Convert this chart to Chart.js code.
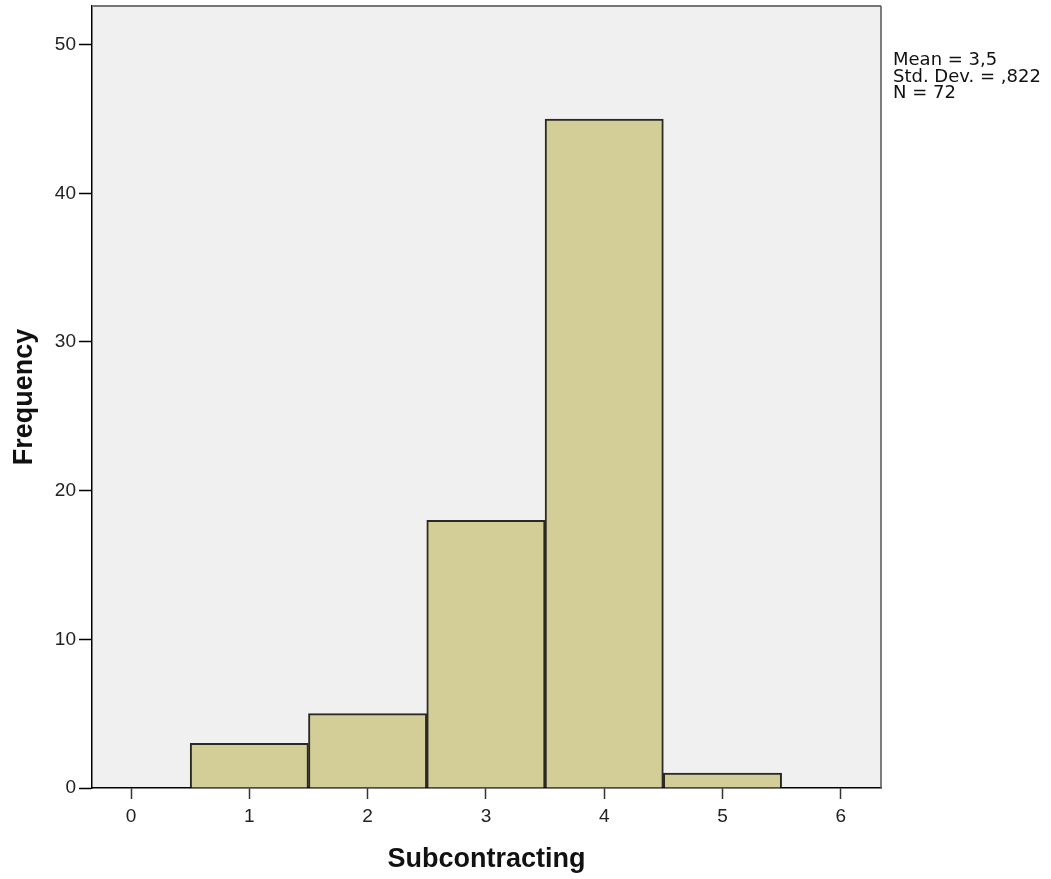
<!DOCTYPE html>
<html>
<head>
<meta charset="utf-8">
<script src="https://cdn.jsdelivr.net/npm/chart.js@4"></script>
<style>
  html, body { margin: 0; padding: 0; background: #fff; }
  #wrap { width: 1051px; height: 879px; }
</style>
</head>
<body>
<div id="wrap"><canvas id="myChart" width="1051" height="879"></canvas></div>
<script>
// histogram data
var binCenters = [1, 2, 3, 4, 5];
var frequencies = [3, 5, 18, 45, 1];
var xTitle = "Subcontracting";
var yTitle = "Frequency";
var statsLines = ["Mean = 3,5", "Std. Dev. = ,822", "N = 72"];

var points = binCenters.map(function (c, i) {
    return { x: c, y: frequencies[i] };
});

// plot background, top/right frame and stats box
var frame = {
    id: "frame",
    beforeDraw: function (chart) {
        var a = chart.chartArea;
        var ctx = chart.ctx;
        ctx.save();
        ctx.fillStyle = "#f0f0f0";
        ctx.fillRect(a.left, a.top, a.right - a.left, a.bottom - a.top);
        ctx.restore();
    },
    afterDraw: function (chart) {
        var a = chart.chartArea;
        var ctx = chart.ctx;
        ctx.save();
        ctx.strokeStyle = "#777";
        ctx.lineWidth = 2;
        ctx.beginPath();
        ctx.moveTo(a.left, a.top);
        ctx.lineTo(a.right, a.top);
        ctx.stroke();
        ctx.strokeStyle = "#555";
        ctx.lineWidth = 1.5;
        ctx.beginPath();
        ctx.moveTo(a.right, a.top);
        ctx.lineTo(a.right, a.bottom);
        ctx.stroke();

        ctx.fillStyle = "#111";
        ctx.font = "18px 'DejaVu Sans'";
        ctx.textBaseline = "alphabetic";
        ctx.textAlign = "left";
        statsLines.forEach(function (t, i) {
            ctx.fillText(t, a.right + 12, 65 + i * 16.5);
        });
        ctx.restore();
    }
};

const ctx = document.getElementById("myChart").getContext("2d");

var myjson = {
    type: "bar",
    data: {
        datasets: [{
            label: "Frequency",
            data: points,
            backgroundColor: "#d3ce97",
            borderColor: "#2b2a22",
            borderWidth: 2,
            borderSkipped: "start",
            barPercentage: 1,
            categoryPercentage: 1,
            grouped: false
        }]
    },
    options: {
        responsive: false,
        animation: false,
        layout: { padding: { left: 0, right: 170, top: 6, bottom: 0 } },
        plugins: {
            legend: { display: false },
            tooltip: { enabled: false }
        },
        scales: {
            x: {
                type: "linear",
                min: -0.33,
                max: 6.34,
                offset: false,
                afterFit: function (s) {
                    s.height = 91;
                    s.paddingLeft = 0;
                    s.paddingRight = 0;
                },
                ticks: {
                    stepSize: 1,
                    includeBounds: false,
                    color: "#222",
                    padding: 6,
                    font: { family: "'Liberation Sans', Arial", size: 19 }
                },
                grid: {
                    offset: false,
                    drawOnChartArea: false,
                    drawTicks: true,
                    tickLength: 11,
                    tickColor: "#333",
                    tickWidth: 1.5
                },
                border: { display: true, color: "#000", width: 1.5 },
                title: {
                    display: true,
                    text: xTitle,
                    color: "#111",
                    padding: { top: 0, bottom: 3 },
                    font: { family: "'Liberation Sans', Arial", size: 27, weight: "bold" }
                }
            },
            y: {
                min: 0,
                max: 52.6,
                afterFit: function (s) {
                    s.width = 92;
                    s.paddingTop = 0;
                    s.paddingBottom = 0;
                },
                ticks: {
                    stepSize: 10,
                    includeBounds: false,
                    color: "#222",
                    padding: 3,
                    font: { family: "'Liberation Sans', Arial", size: 19 }
                },
                grid: {
                    drawOnChartArea: false,
                    drawTicks: true,
                    tickLength: 13,
                    tickColor: "#000",
                    tickWidth: 1.5
                },
                border: { display: true, color: "#000", width: 1.5 },
                title: {
                    display: true,
                    text: yTitle,
                    color: "#111",
                    padding: { top: 8, bottom: 0 },
                    font: { family: "'Liberation Sans', Arial", size: 27, weight: "bold" }
                }
            }
        }
    },
    plugins: [frame]
};

const myChart = new Chart(ctx, myjson);
</script>
</body>
</html>
